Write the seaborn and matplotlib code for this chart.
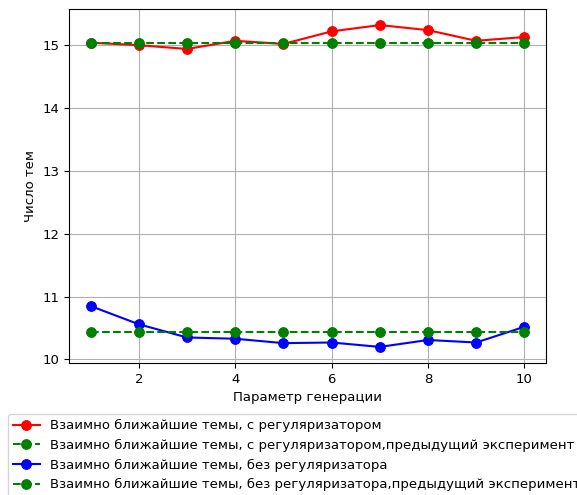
import matplotlib
matplotlib.use("Agg")
import matplotlib.pyplot as plt
import seaborn as sns
import pandas as pd

# Generation parameter values
params = [1, 2, 3, 4, 5, 6, 7, 8, 9, 10]

# Number of mutually nearest topics
with_reg = [15.04, 15.00, 14.94, 15.07, 15.02, 15.22, 15.32, 15.24, 15.07, 15.13]
with_reg_prev = [15.04] * 10
without_reg = [10.85, 10.56, 10.35, 10.33, 10.26, 10.27, 10.20, 10.31, 10.27, 10.52]
without_reg_prev = [10.44] * 10

labels = [
    "Взаимно ближайшие темы, с регуляризатором",
    "Взаимно ближайшие темы, с регуляризатором,предыдущий эксперимент",
    "Взаимно ближайшие темы, без регуляризатора",
    "Взаимно ближайшие темы, без регуляризатора,предыдущий эксперимент",
]
series = [with_reg, with_reg_prev, without_reg, without_reg_prev]
colors = ["red", "green", "blue", "green"]
dashes = ["-", "--", "-", "--"]

plt.rcParams["font.family"] = ["DejaVu Sans"]
plt.rcParams["font.size"] = 9.5

fig = plt.figure(figsize=(5.77, 4.95), dpi=100)
ax = fig.add_axes([69 / 577, 1 - 363 / 495, (546 - 69) / 577, (363 - 9) / 495])

for vals, lab, col, ls in zip(series, labels, colors, dashes):
    df = pd.DataFrame({"x": params, "y": vals})
    sns.lineplot(data=df, x="x", y="y", ax=ax, color=col, linestyle=ls,
                 marker="o", markersize=7, markeredgecolor=col, label=lab,
                 linewidth=1.5)

ax.grid(True, color="#b0b0b0", linewidth=0.8)
ax.set_xlabel("Параметр генерации")
ax.set_ylabel("Число тем")
ax.set_xticks([2, 4, 6, 8, 10])
ax.set_yticks([10, 11, 12, 13, 14, 15])
ax.margins(x=0.05, y=0.05)

ax.legend(loc="upper left", bbox_to_anchor=(8 / 577, 1 - 414 / 495),
          bbox_transform=fig.transFigure, fontsize=9.5, frameon=True,
          borderaxespad=0)

fig.savefig("out.png", dpi=100)
